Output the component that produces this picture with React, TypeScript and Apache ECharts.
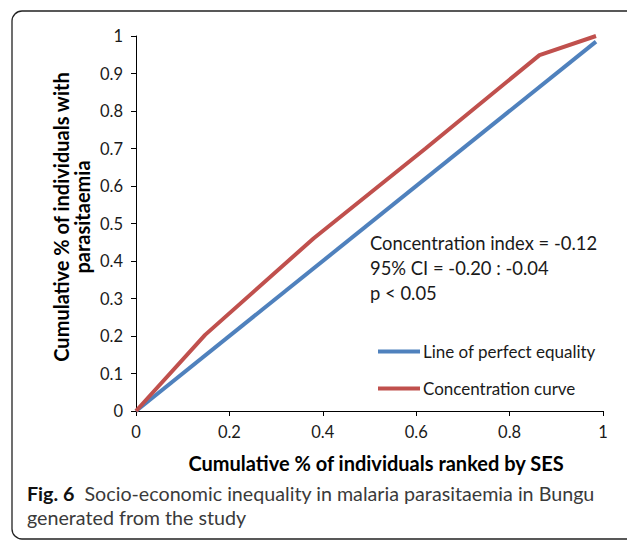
import React, { useEffect, useRef } from "react";
import * as echarts from "echarts";

const equalityLine: [number, number][] = [
  [0, 0],
  [0.985, 0.985],
];
const concentrationCurve: [number, number][] = [
  [0, 0],
  [0.148, 0.203],
  [0.38, 0.46],
  [0.62, 0.7],
  [0.864, 0.949],
  [0.985, 1.0],
];
const seriesNames = ["Line of perfect equality", "Concentration curve"];
const annotationLines = [
  "Concentration index = -0.12",
  "95% CI = -0.20 : -0.04",
  "p < 0.05",
];
const yTitle = ["Cumulative % of individuals with", "parasitaemia"];
const xTitle = "Cumulative % of individuals ranked by SES";
const captionBold = "Fig. 6";
const captionLine1 = "Socio-economic inequality in malaria parasitaemia in Bungu";
const captionLine2 = "generated from the study";

const FONT = "Lato";

export default function App() {
  const ref = useRef<HTMLDivElement>(null);
  useEffect(() => {
    if (!ref.current) return;
    const chart = echarts.init(ref.current, undefined, { renderer: "svg" });
    chart.setOption({
      animation: false,
      backgroundColor: "#ffffff",
      textStyle: { fontFamily: FONT },
      grid: { left: 136, top: 36, right: 24, bottom: 130, containLabel: false },
      xAxis: {
        type: "value",
        min: 0,
        max: 1,
        interval: 0.2,
        axisLine: { show: true, lineStyle: { color: "#000", width: 1 } },
        axisTick: { show: true, length: 5, lineStyle: { color: "#000" } },
        splitLine: { show: false },
        axisLabel: { color: "#1a1a1a", fontSize: 16.5, margin: 12, fontFamily: FONT },
      },
      yAxis: {
        type: "value",
        min: 0,
        max: 1,
        interval: 0.1,
        axisLine: { show: true, lineStyle: { color: "#000", width: 1 } },
        axisTick: { show: true, length: 5, lineStyle: { color: "#000" } },
        splitLine: { show: false },
        axisLabel: { color: "#1a1a1a", fontSize: 16.5, margin: 13, fontFamily: FONT },
      },
      legend: {
        orient: "vertical",
        left: 378,
        top: 343,
        padding: 0,
        itemWidth: 42,
        itemHeight: 4,
        itemGap: 20,
        icon: "rect",
        data: seriesNames,
        textStyle: { fontSize: 17, color: "#1a1a1a", fontFamily: FONT, padding: [0, 0, 0, -2] },
      },
      series: [
        {
          name: seriesNames[0],
          type: "line",
          data: equalityLine,
          symbol: "none",
          lineStyle: { color: "#4F81BD", width: 4 },
          itemStyle: { color: "#4F81BD" },
        },
        {
          name: seriesNames[1],
          type: "line",
          data: concentrationCurve,
          symbol: "none",
          lineStyle: { color: "#C0504D", width: 4 },
          itemStyle: { color: "#C0504D" },
        },
      ],
      graphic: [
        {
          type: "rect",
          shape: { x: 12, y: 11, width: 640, height: 528, r: 10 },
          style: { fill: "none", stroke: "#222", lineWidth: 1.3 },
          silent: true,
        },
        {
          type: "text",
          x: 71,
          y: 217,
          rotation: Math.PI / 2,
          style: {
            text: yTitle.join("\n"),
            fontFamily: FONT,
            fontWeight: "bold",
            fontSize: 20,
            lineHeight: 21,
            fill: "#000",
            align: "center",
            verticalAlign: "middle",
          },
        },
        {
          type: "text",
          x: 376,
          y: 463,
          style: {
            text: xTitle,
            fontFamily: FONT,
            fontWeight: "bold",
            fontSize: 20,
            fill: "#000",
            align: "center",
            verticalAlign: "middle",
          },
        },
        {
          type: "text",
          x: 370,
          y: 230.5,
          style: {
            text: annotationLines.join("\n"),
            fontFamily: FONT,
            fontSize: 18.4,
            lineHeight: 25,
            fill: "#1a1a1a",
            align: "left",
            verticalAlign: "top",
          },
        },
        {
          type: "text",
          x: 27,
          y: 481,
          style: {
            text: "{b|" + captionBold + "}  {r|" + captionLine1 + "}\n{r|" + captionLine2 + "}",
            fontFamily: FONT,
            fontSize: 19.7,
            lineHeight: 24,
            align: "left",
            verticalAlign: "top",
            rich: {
              b: { fontFamily: FONT, fontWeight: "bold", fontSize: 19.7, fill: "#111", lineHeight: 24 },
              r: { fontFamily: FONT, fontWeight: "normal", fontSize: 19.7, fill: "#3a3a3a", lineHeight: 24 },
            },
          },
        },
      ],
    });
    return () => chart.dispose();
  }, []);
  return (
    <div
      ref={ref}
      style={{ position: "fixed", left: 0, top: 0, width: 627, height: 541 }}
    />
  );
}
